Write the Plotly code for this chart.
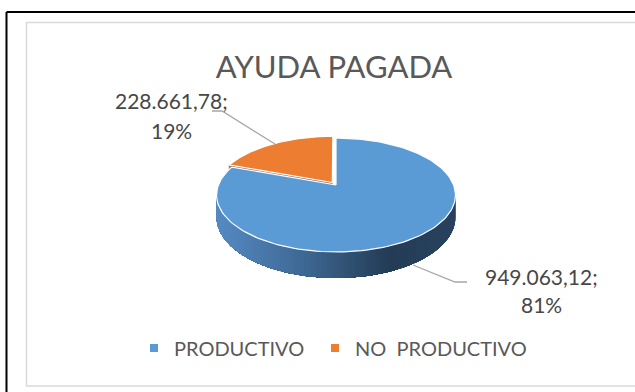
import numpy as np
import plotly.graph_objects as go

# ---- data ----
categories = ["PRODUCTIVO", "NO  PRODUCTIVO"]
values = [949063.12, 228661.78]
colors = ["#5B9BD5", "#ED7D31"]
chart_title = "AYUDA PAGADA"

# ---- canvas / pie geometry (pixel units) ----
W, H = 635, 392
CX, CY = 336, 185          # projected centre of the pie's top face
RX, RY = 117.6, 55.2       # projected radii
K = 0.1754                 # perspective strength (back edge recedes)
DEPTH = 21.5               # thickness of the disc
EXPLODE = [0.0, 0.055]     # radial pull-out per slice
TEXT = "#595959"
LABEL = "#474747"
FONT = "Lato"


def project(a, b, z=0.0):
    """Map a point of the unit disc (a right, b back) at height z to the canvas."""
    w = 1.0 + K * b
    return CX + RX * a / w, CY - RY * b / w + DEPTH * z / w


def es_number(v):
    s = f"{v:,.2f}"
    return s.replace(",", "X").replace(".", ",").replace("X", ".")


total = sum(values)
fracs = [v / total for v in values]
bounds = np.concatenate([[0.0], np.cumsum(fracs) * 360.0])

fig = go.Figure()

# extreme left/right angles of the silhouette (front wall spans between them)
th_right = np.degrees(np.arctan2(np.sqrt(1 - K**2), -K))
th_left = 360.0 - th_right

# side-wall colour ramp across the width
ramp = [(0.0, (86, 138, 194)), (0.35, (63, 106, 150)), (0.72, (36, 60, 86)), (1.0, (40, 66, 95))]


def ramp_color(u):
    u = min(max(u, 0.0), 1.0)
    for (u0, c0), (u1, c1) in zip(ramp[:-1], ramp[1:]):
        if u <= u1:
            t = (u - u0) / (u1 - u0)
            c = [round(c0[i] + (c1[i] - c0[i]) * t) for i in range(3)]
            return f"rgb({c[0]},{c[1]},{c[2]})"
    return f"rgb{ramp[-1][1]}"


x_min = CX - RX / np.sqrt(1 - K**2)
x_span = 2 * RX / np.sqrt(1 - K**2)

slice_info = []
for i, (t0, t1) in enumerate(zip(bounds[:-1], bounds[1:])):
    mid = np.radians((t0 + t1) / 2)
    da, db = EXPLODE[i] * np.sin(mid), EXPLODE[i] * np.cos(mid)
    slice_info.append((t0, t1, da, db))

# front wall of each slice: shaded by layering bands that each run to the
# slice's left end, so every band only shows its own sliver (no seams)
for i, (t0, t1, da, db) in enumerate(slice_info):
    lo, hi = max(t0, th_right), min(t1, th_left)
    if hi <= lo:
        continue
    edges = np.linspace(lo, hi, 120)
    for s0, s1 in zip(edges[:-1], edges[1:]):
        ts = np.radians(np.linspace(s0, hi, max(2, int((hi - s0) / 1.0) + 2)))
        top = [project(da + np.sin(t), db + np.cos(t), 0) for t in ts]
        bot = [project(da + np.sin(t), db + np.cos(t), 1) for t in ts[::-1]]
        pts = top + bot
        xs = [p[0] for p in pts] + [pts[0][0]]
        ys = [p[1] for p in pts] + [pts[0][1]]
        xa = project(da + np.sin(np.radians(s0)), db + np.cos(np.radians(s0)))[0]
        xb = project(da + np.sin(np.radians(s1)), db + np.cos(np.radians(s1)))[0]
        col = ramp_color(((xa + xb) / 2 - x_min) / x_span)
        fig.add_trace(go.Scatter(x=xs, y=ys, mode="lines", fill="toself",
                                 fillcolor=col, line=dict(width=0),
                                 hoverinfo="skip", showlegend=False))

# cut face of the pulled-out slice along its leading radial edge
t0, t1, da, db = slice_info[1]
t = np.radians(t0)
face = [project(da, db, 0), project(da + np.sin(t), db + np.cos(t), 0),
        project(da + np.sin(t), db + np.cos(t), 1), project(da, db, 1)]
fig.add_trace(go.Scatter(x=[p[0] for p in face] + [face[0][0]],
                         y=[p[1] for p in face] + [face[0][1]],
                         mode="lines", fill="toself", fillcolor="#9C7560",
                         line=dict(color="#9C7560", width=0.5),
                         hoverinfo="skip", showlegend=False))

# top faces
for i, (t0, t1, da, db) in enumerate(slice_info):
    ts = np.radians(np.linspace(t0, t1, 160))
    pts = [project(da, db)] + [project(da + np.sin(t), db + np.cos(t)) for t in ts]
    xs = [p[0] for p in pts] + [pts[0][0]]
    ys = [p[1] for p in pts] + [pts[0][1]]
    fig.add_trace(go.Scatter(x=xs, y=ys, mode="lines", fill="toself",
                             fillcolor=colors[i], line=dict(color="white", width=1.2),
                             hoverinfo="skip", showlegend=False))

# legend entries, one legend box per category so each can be placed freely
legend_ids = ["legend", "legend2"]
for name, col, lid in zip(categories, colors, legend_ids):
    fig.add_trace(go.Scatter(x=[None], y=[None], mode="markers", name=name, legend=lid,
                             marker=dict(symbol="square", size=8, color=col)))

# leader lines
leaders = [
    ([413, 455, 467], [265, 282, 282]),
    ([275, 222, 212], [144, 111, 111]),
]
for lx, ly in leaders:
    fig.add_trace(go.Scatter(x=lx, y=ly, mode="lines",
                             line=dict(color="#A6A6A6", width=1.3),
                             hoverinfo="skip", showlegend=False))

# data labels: value and share, one line each
label_pos = [(541, 276, 304), (171, 100, 130)]
annotations = []
for v, f, (lx, y1, y2) in zip(values, fracs, label_pos):
    annotations.append(dict(x=lx, y=y1, text=es_number(v) + ";", showarrow=False,
                            xanchor="center", yanchor="middle",
                            font=dict(family=FONT, size=21, color=LABEL)))
    annotations.append(dict(x=lx, y=y2, text=f"{round(f * 100)}%", showarrow=False,
                            xanchor="center", yanchor="middle",
                            font=dict(family=FONT, size=21, color=LABEL)))

shapes = [
    # outer frame
    dict(type="line", x0=6.5, y0=12, x1=W + 5, y1=12, line=dict(color="black", width=2)),
    dict(type="line", x0=6.5, y0=12, x1=6.5, y1=H + 5, line=dict(color="black", width=2)),
    # chart area border
    dict(type="rect", x0=26.5, y0=22.5, x1=W + 5, y1=386,
         line=dict(color="#D9D9D9", width=1.5), layer="below"),
]

legend_style = dict(orientation="h", xanchor="left", y=1 - 348 / H, yanchor="middle",
                    font=dict(family=FONT, size=20, color=TEXT),
                    bgcolor="rgba(0,0,0,0)", itemwidth=30)

fig.update_layout(
    width=W, height=H,
    margin=dict(l=0, r=0, t=0, b=0),
    paper_bgcolor="white", plot_bgcolor="white",
    xaxis=dict(range=[0, W], visible=False, fixedrange=True),
    yaxis=dict(range=[H, 0], visible=False, fixedrange=True),
    title=dict(text=chart_title, x=334 / W, y=1 - 67 / H, xanchor="center", yanchor="middle",
               font=dict(family=FONT, size=31, color=TEXT)),
    legend=dict(x=134 / W, **legend_style),
    legend2=dict(x=315 / W, **legend_style),
    annotations=annotations,
    shapes=shapes,
    showlegend=True,
)

fig.write_html("out.html")
